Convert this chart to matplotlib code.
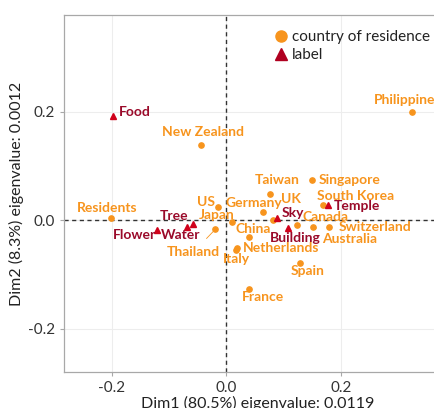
import matplotlib.pyplot as plt

# country of residence points (Dim1, Dim2)
countries = ["Residents", "New Zealand", "Philippines", "Singapore", "Taiwan", "UK",
             "Germany", "US", "Japan", "China", "Netherlands", "Italy", "Thailand",
             "Spain", "France", "Canada", "Australia", "Switzerland", "South Korea"]
country_x = [-0.201, -0.044, 0.325, 0.150, 0.077, 0.082, 0.065, -0.014, 0.010, 0.040,
             0.019, 0.017, -0.019, 0.129, 0.040, 0.124, 0.152, 0.180, 0.169]
country_y = [0.004, 0.138, 0.199, 0.074, 0.048, 0.000, 0.015, 0.024, -0.004, -0.031,
             -0.052, -0.056, -0.017, -0.079, -0.127, -0.009, -0.013, -0.013, 0.028]

# label points
labels = ["Food", "Tree", "Water", "Flower", "Sky", "Building", "Temple"]
label_x = [-0.197, -0.058, -0.068, -0.121, 0.089, 0.107, 0.178]
label_y = [0.192, -0.007, -0.013, -0.018, 0.004, -0.015, 0.028]

# text placement: (dx px, dy px, ha, draw segment)
country_off = {
    "Residents": (-4, 10, "center", False), "New Zealand": (2, 13, "center", False),
    "Philippines": (-39, 12, "left", False), "Singapore": (6, 0, "left", False),
    "Taiwan": (7, 14, "center", False), "UK": (18, 21, "center", False),
    "Germany": (-10, 9, "center", False), "US": (-12, 5, "center", False),
    "Japan": (-15, 7, "center", False), "China": (4, 8, "center", False),
    "Netherlands": (6, 0, "left", False), "Italy": (1, -9, "center", False),
    "Thailand": (-22, -23, "center", True), "Spain": (7, -8, "center", False),
    "France": (14, -8, "center", False), "Canada": (28, 8, "center", True),
    "Australia": (36, -12, "center", True), "Switzerland": (9, 0, "left", False),
    "South Korea": (33, 9, "center", False),
}
label_off = {
    "Food": (6, 4, "left"), "Tree": (-19, 8, "center"), "Water": (-7, -8, "center"),
    "Flower": (-22, -5, "center"), "Sky": (16, 5, "center"),
    "Building": (8, -10, "center"), "Temple": (6, -1, "left"),
}

orange = "#F7941D"
red = "#D0021B"
dark_red = "#9A0A2A"

plt.rcParams['font.family'] = ['Lato', 'DejaVu Sans']
fig = plt.figure(figsize=(4.34, 4.08), dpi=100)
ax = fig.add_axes([64 / 434, 1 - 372 / 408, (452 - 64) / 434, (372 - 15) / 408])

ax.set_xlim(-0.283, 0.394)
ax.set_ylim(-0.280, 0.378)
ax.set_xticks([-0.2, 0.0, 0.2])
ax.set_yticks([-0.2, 0.0, 0.2])
ax.set_xticklabels(["-0.2", "0.0", "0.2"])
ax.set_yticklabels(["-0.2", "0.0", "0.2"])
ax.grid(True, color="#EDEDED", linewidth=0.8)
ax.set_axisbelow(True)
for s in ax.spines.values():
    s.set_color("#A8A8A8")
    s.set_linewidth(0.9)
ax.spines["right"].set_visible(False)
ax.tick_params(colors="#A8A8A8", labelcolor="#333333", labelsize=11, length=3)

ax.axhline(0, color="#333333", linestyle=(0, (3, 2.5)), linewidth=1.0, zorder=1)
ax.axvline(0, color="#333333", linestyle=(0, (3, 2.5)), linewidth=1.0, zorder=1)

ax.plot(country_x, country_y, "o", color=orange, markersize=3.8, linestyle="none", zorder=3)
ax.plot(label_x, label_y, "^", color=red, markersize=4.5, linestyle="none", zorder=3)

for name, x, y in zip(countries, country_x, country_y):
    dx, dy, ha, seg = country_off[name]
    ax.annotate(name, (x, y), xytext=(dx, dy), textcoords="offset pixels",
                ha=ha, va="center", color=orange, fontsize=10, fontweight="bold",
                arrowprops=dict(arrowstyle="-", color=orange, lw=0.6, shrinkA=5, shrinkB=2) if seg else None,
                zorder=4)

for name, x, y in zip(labels, label_x, label_y):
    dx, dy, ha = label_off[name]
    ax.annotate(name, (x, y), xytext=(dx, dy), textcoords="offset pixels",
                ha=ha, va="center", color=dark_red, fontsize=10, fontweight="bold", zorder=5)

# legend drawn as a plain key in the upper middle
ax.plot([], [], "o", color=orange, markersize=8, label="country of residence")
ax.plot([], [], "^", color="#B00020", markersize=8, label="label")
ax.legend(loc="upper left", bbox_to_anchor=(0.52, 0.975), frameon=False, fontsize=11,
          handletextpad=0.1, labelspacing=0.25, borderaxespad=0, handlelength=1.2,
          labelcolor="#222222")

ax.set_xlabel("Dim1 (80.5%) eigenvalue: 0.0119", fontsize=11.5, color="#222222", labelpad=1)
ax.set_ylabel("Dim2 (8.3%) eigenvalue: 0.0012", fontsize=11.5, color="#222222", labelpad=3)

fig.savefig("out.png", dpi=100)
